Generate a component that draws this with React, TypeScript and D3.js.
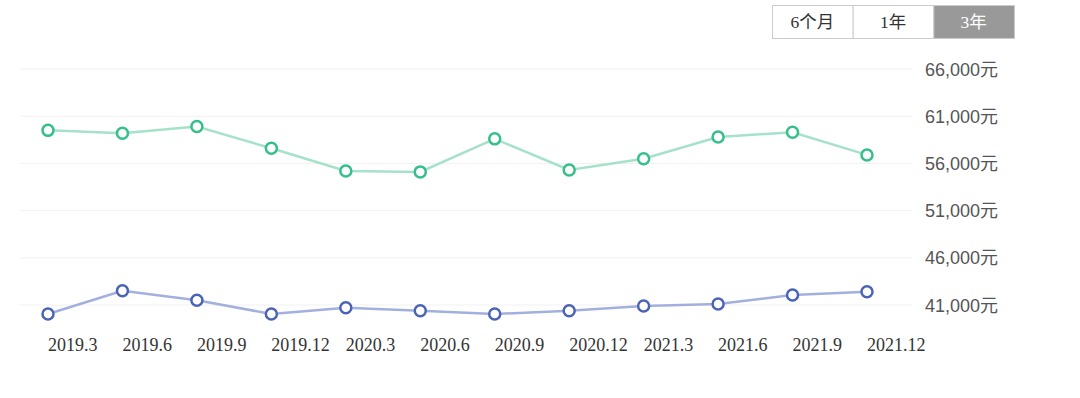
import React from "react";
import * as d3 from "d3";

// quarter labels on the x axis
const periods = ["2019.3", "2019.6", "2019.9", "2019.12", "2020.3", "2020.6", "2020.9", "2020.12", "2021.3", "2021.6", "2021.9", "2021.12"];
// upper series (green)
const highValues = [59500, 59200, 59900, 57600, 55200, 55100, 58600, 55300, 56500, 58800, 59300, 56900];
// lower series (blue)
const lowValues = [40050, 42500, 41500, 40050, 40700, 40400, 40050, 40400, 40900, 41100, 42050, 42400];
const yTicks = [41000, 46000, 51000, 56000, 61000, 66000];
const ranges = ["6个月", "1年", "3年"];

const W = 1080, H = 398;

export default function App() {
  const xScale = d3.scalePoint<string>().domain(periods).range([48, 867]);
  const yScale = d3.scaleLinear().domain([41000, 66000]).range([305, 69]);

  const line = d3.line<number>()
    .x((d, i) => xScale(periods[i]) as number)
    .y(d => yScale(d));

  const fmt = d3.format(",");
  const btnX = d3.scaleBand().domain(ranges).range([772, 1014]);

  return (
    <svg width={W} height={H} style={{ position: "absolute", left: 0, top: 0, background: "#fff" }}>
      {/* range buttons */}
      {ranges.map((r, i) => (
        <g key={r}>
          <rect x={btnX(r)! + 0.5} y={5.5} width={btnX.bandwidth()} height={33}
            fill={i === 2 ? "#999999" : "#fff"} stroke="#cccccc" strokeWidth={1} />
          <text x={btnX(r)! + btnX.bandwidth() / 2} y={28} textAnchor="middle"
            fontFamily="'Liberation Serif', 'Noto Sans CJK SC', serif" fontSize={17.5}
            fill={i === 2 ? "#fff" : "#333"}>{r}</text>
        </g>
      ))}

      {/* grid + y labels */}
      {yTicks.map(t => (
        <g key={t}>
          <line x1={20} x2={912} y1={yScale(t)} y2={yScale(t)} stroke="#f1f1f1" strokeWidth={1} />
          <text x={925} y={yScale(t) + 6.5} fontFamily="'Liberation Sans', Arial, 'Noto Sans CJK SC', sans-serif"
            fontSize={18} fill="#555">{fmt(t)}元</text>
        </g>
      ))}

      {/* x labels */}
      {periods.map(p => (
        <text key={p} x={xScale(p)} y={351} fontFamily="'Liberation Serif', serif" fontSize={18} fill="#333">{p}</text>
      ))}

      {/* lines */}
      <path d={line(highValues)!} fill="none" stroke="#a6e2ca" strokeWidth={2.5} />
      <path d={line(lowValues)!} fill="none" stroke="#a3b0de" strokeWidth={2.5} />

      {highValues.map((v, i) => (
        <circle key={"h" + i} cx={xScale(periods[i])} cy={yScale(v)} r={5.5} fill="#fff" stroke="#35bf8a" strokeWidth={2.5} />
      ))}
      {lowValues.map((v, i) => (
        <circle key={"l" + i} cx={xScale(periods[i])} cy={yScale(v)} r={5.5} fill="#fff" stroke="#4a63b6" strokeWidth={2.5} />
      ))}
    </svg>
  );
}
